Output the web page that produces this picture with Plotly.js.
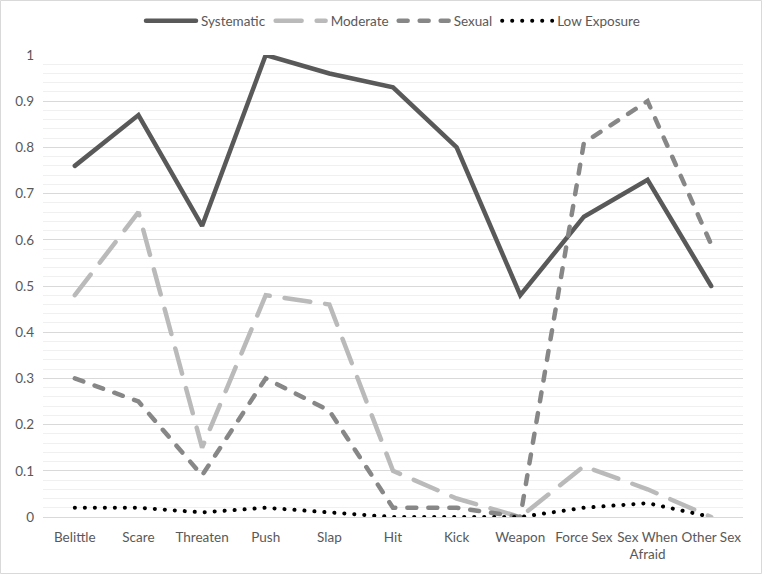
<!DOCTYPE html>
<html>
<head>
<meta charset="utf-8">
<script src="https://cdn.plot.ly/plotly-3.0.1.min.js"></script>
<style>
html,body{margin:0;padding:0;background:#fff;}
#chart{width:762px;height:574px;}
#chart .js-line{stroke-linecap:round !important;}
</style>
</head>
<body>
<div id="chart"></div>
<script>
var categories = ["Belittle","Scare","Threaten","Push","Slap","Hit","Kick","Weapon","Force Sex","Sex When<br>Afraid","Other Sex"];
var systematic = [0.76,0.87,0.63,1.00,0.96,0.93,0.80,0.48,0.65,0.73,0.50];
var moderate   = [0.48,0.66,0.15,0.48,0.46,0.10,0.04,0.00,0.11,0.06,0.00];
var sexual     = [0.30,0.25,0.09,0.30,0.23,0.02,0.02,0.00,0.81,0.90,0.59];
var lowExposure= [0.02,0.02,0.01,0.02,0.01,0.00,0.00,0.00,0.02,0.03,0.00];
var yTicks = [0,0.1,0.2,0.3,0.4,0.5,0.6,0.7,0.8,0.9,1];
var yTickText = ["0","0.1","0.2","0.3","0.4","0.5","0.6","0.7","0.8","0.9","1"];

function tr(name, y, color, width, dash){
  return {type:'scatter', mode:'lines', name:name, x:categories, y:y,
    line:{color:color, width:width, dash:dash}, cliponaxis:false, hoverinfo:'skip'};
}
var data = [
  tr('Systematic', systematic, '#595959', 4.5, 'solid'),
  tr('Moderate', moderate, '#bababa', 4.5, '26px,15px'),
  tr('Sexual', sexual, '#878787', 4.5, '9px,12px'),
  tr('Low Exposure', lowExposure, '#000000', 4, '0.1px,9.9px')
];
var L=43, R=19, T=55, B=57, W=762, H=574;
var pw=W-L-R, ph=H-T-B;
var layout = {
  width:W, height:H,
  margin:{l:L, r:R, t:T, b:B, pad:0, autoexpand:false},
  paper_bgcolor:'#fff', plot_bgcolor:'#fff',
  font:{family:'Lato, "Open Sans", sans-serif', size:13.5, color:'#595959'},
  showlegend:true,
  legend:{orientation:'h', x:0.5, xanchor:'center', y:1+(T-21)/ph, yanchor:'middle',
    font:{size:13.5, color:'#595959'}, itemwidth:50, tracegroupgap:0},
  xaxis:{type:'category', range:[-0.5,10.5], showgrid:false, zeroline:false,
    showline:false, ticks:'', ticklabelstandoff:10, tickfont:{size:13.5,color:'#595959'}, fixedrange:true},
  yaxis:{range:[0,1], tickvals:yTicks, ticktext:yTickText, showgrid:true,
    gridcolor:'#d9d9d9', gridwidth:1, zeroline:true, zerolinecolor:'#d9d9d9', zerolinewidth:1,
    showline:false, ticks:'', ticklabelstandoff:8, tickfont:{size:13.5,color:'#595959'},
    minor:{dtick:0.02, showgrid:true, gridcolor:'#f0f0f0', gridwidth:1},
    fixedrange:true},
  shapes:[{type:'rect', xref:'paper', yref:'paper',
    x0:-(L-0.5)/pw, x1:1+(R-0.5)/pw, y0:-(B-0.5)/ph, y1:1+(T-0.5)/ph,
    line:{color:'#d9d9d9', width:1}, fillcolor:'rgba(0,0,0,0)', layer:'below'}]
};
Plotly.newPlot('chart', data, layout, {displayModeBar:false, staticPlot:true});
</script>
</body>
</html>
